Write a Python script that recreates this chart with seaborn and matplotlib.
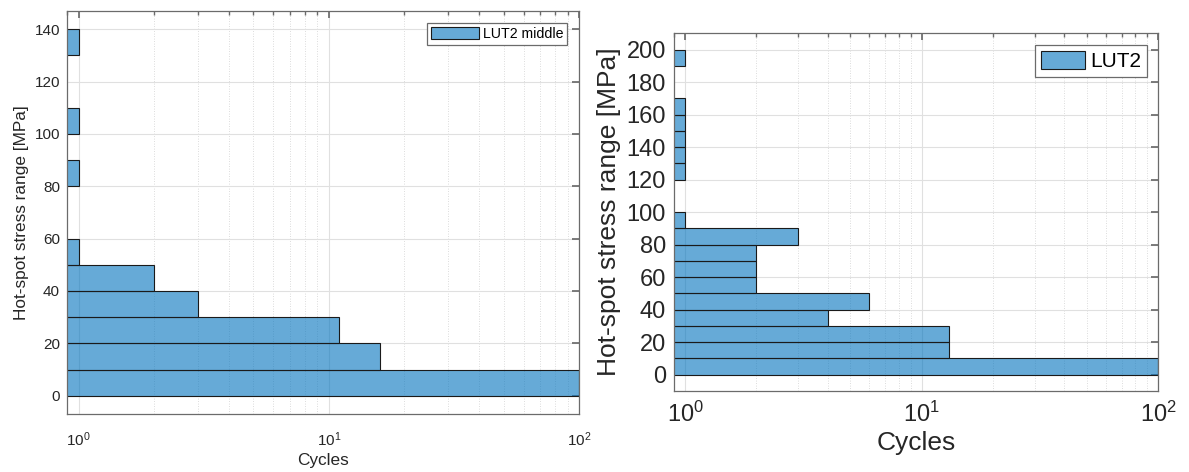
import numpy as np
import pandas as pd
import seaborn as sns
import matplotlib
matplotlib.use("Agg")
import matplotlib.pyplot as plt
from matplotlib.patches import Patch
from matplotlib.ticker import LogLocator, NullFormatter

# ---------------- data ----------------
left_edges = list(range(0, 150, 10))            # 0..140
left_centers = [5, 15, 25, 35, 45, 55, 85, 105, 135]
left_counts = [100, 16, 11, 3, 2, 1, 1, 1, 1]
left_label = "LUT2 middle"

right_edges = list(range(0, 210, 10))           # 0..200
right_centers = [5, 15, 25, 35, 45, 55, 65, 75, 85, 95, 125, 135, 145, 155, 165, 195]
right_counts = [100, 13, 13, 4, 6, 2, 2, 2, 3, 1, 1, 1, 1, 1, 1, 1]
right_label = "LUT2"

x_label = "Cycles"
y_label = "Hot-spot stress range [MPa]"

# ---------------- style ----------------
sns.set_theme(style="white")
plt.rcParams["font.family"] = ["Liberation Sans", "DejaVu Sans"]
plt.rcParams["mathtext.fontset"] = "custom"
plt.rcParams["mathtext.rm"] = "Liberation Sans"
plt.rcParams["mathtext.it"] = "Liberation Sans:italic"

FACE = (0.0, 0.447, 0.741, 0.6)
TXT = "#262626"
AXC = "#6b6b6b"

fig = plt.figure(figsize=(11.89, 4.72), dpi=100)
axL = fig.add_axes([0.0564, 0.1229, 0.4306, 0.8538])
axR = fig.add_axes([0.5671, 0.1716, 0.4071, 0.7578])


def draw(ax, centers, counts, edges, ylim, yticks, label, fs_tick, fs_lab, fs_leg,
         leg_hl, leg_hh, xpad, ypad, anchor):
    df = pd.DataFrame({"stress": centers, "cycles": counts})
    sns.histplot(data=df, y="stress", weights="cycles", bins=edges, ax=ax,
                 stat="count", element="bars", fill=True)
    ax.set_xscale("log")
    for p in ax.patches:
        p.set_alpha(None)
        p.set_facecolor(FACE)
        p.set_edgecolor("#1a1a1a")
        p.set_linewidth(0.8)
    ax.set_xlim(0.9, 100)
    ax.set_ylim(*ylim)
    ax.set_yticks(yticks)
    ax.xaxis.set_major_locator(LogLocator(base=10, numticks=10))
    ax.xaxis.set_minor_locator(LogLocator(base=10, subs=np.arange(2, 10), numticks=20))
    ax.xaxis.set_minor_formatter(NullFormatter())
    ax.set_axisbelow(True)
    ax.grid(True, which="major", axis="both", color="#e0e0e0", linewidth=0.8)
    ax.grid(True, which="minor", axis="x", color="#d0d0d0", linewidth=0.6,
            linestyle=(0, (1, 2)))
    for s in ax.spines.values():
        s.set_visible(True)
        s.set_color(AXC)
        s.set_linewidth(0.9)
    ax.tick_params(axis="both", which="both", direction="in", top=True, right=True,
                   colors=AXC, labelcolor=TXT)
    ax.tick_params(axis="both", which="major", length=5, labelsize=fs_tick)
    ax.tick_params(axis="x", which="minor", length=3)
    ax.tick_params(axis="x", which="both", pad=xpad)
    ax.tick_params(axis="y", which="both", pad=ypad)
    ax.set_xlabel(x_label, fontsize=fs_lab, color=TXT, labelpad=3)
    ax.set_ylabel(y_label, fontsize=fs_lab, color=TXT, labelpad=4)
    h = Patch(facecolor=FACE, edgecolor="#1a1a1a", linewidth=0.8)
    leg = ax.legend([h], [label], loc="upper right", bbox_to_anchor=anchor,
                    borderaxespad=0, fontsize=fs_leg, frameon=True, fancybox=False,
                    framealpha=1, handlelength=leg_hl, handleheight=leg_hh,
                    handletextpad=0.25, borderpad=0.3)
    leg.get_frame().set_edgecolor(AXC)
    leg.get_frame().set_linewidth(0.9)
    for t in leg.get_texts():
        t.set_color("black")


draw(axL, left_centers, left_counts, left_edges, (-7, 147), range(0, 141, 20),
     left_label, 11, 12.4, 10.2, 3.4, 0.95, 12, 5, (0.977, 0.971))
draw(axR, right_centers, right_counts, right_edges, (-10, 210), range(0, 201, 20),
     right_label, 17, 19, 15, 2.1, 0.9, 8, 6, (0.977, 0.967))

fig.savefig("out.png", dpi=100)
